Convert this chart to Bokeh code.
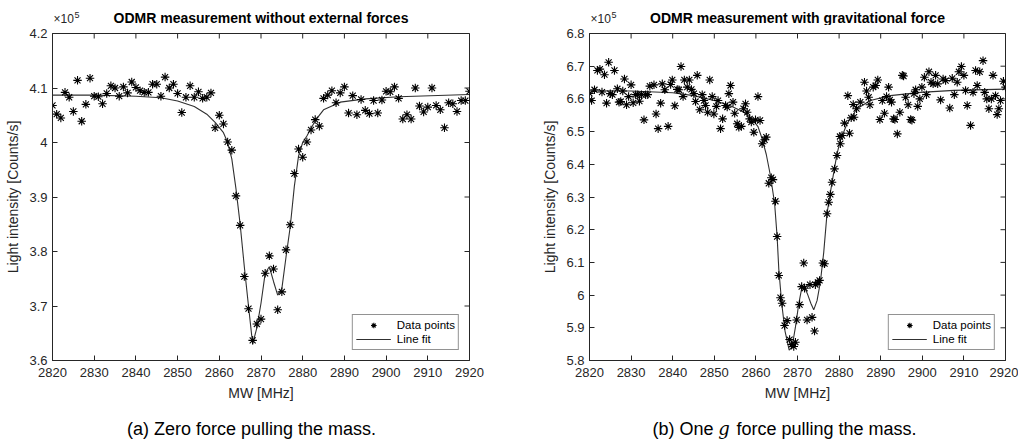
import math
from bokeh.plotting import figure
from bokeh.models import (Range1d, FixedTicker, Label, Legend, LegendItem,
                          CustomJSTickFormatter)
from bokeh.layouts import row, column
from bokeh.embed import file_html
from bokeh.resources import INLINE

# ---------------- data ----------------
x_ticks = [2820, 2830, 2840, 2850, 2860, 2870, 2880, 2890, 2900, 2910, 2920]
left_y_ticks = [3.6, 3.7, 3.8, 3.9, 4.0, 4.1, 4.2]
right_y_ticks = [5.8, 5.9, 6.0, 6.1, 6.2, 6.3, 6.4, 6.5, 6.6, 6.7, 6.8]

# (a) zero force: measured points (MHz, x1e5 counts/s)
left_freq = list(range(2820, 2921))
left_counts = [
    4.068, 4.052, 4.045, 4.092, 4.083, 4.057, 4.114, 4.039, 4.070, 4.118,
    4.085, 4.084, 4.071, 4.090, 4.104, 4.100, 4.085, 4.102, 4.091, 4.111,
    4.101, 4.095, 4.092, 4.092, 4.107, 4.107, 4.085, 4.120, 4.100, 4.107,
    4.090, 4.055, 4.083, 4.104, 4.083, 4.093, 4.081, 4.083, 4.091, 4.027,
    4.050, 4.034, 4.001, 3.986, 3.902, 3.848, 3.754, 3.695, 3.637, 3.667,
    3.676, 3.760, 3.792, 3.768, 3.693, 3.726, 3.803, 3.849, 3.943, 3.988,
    3.973, 4.001, 4.023, 4.042, 4.030, 4.081, 4.087, 4.095, 4.073, 4.091,
    4.102, 4.054, 4.086, 4.051, 4.079, 4.059, 4.053, 4.077, 4.054, 4.078,
    4.094, 4.093, 4.102, 4.081, 4.043, 4.051, 4.043, 4.100, 4.067, 4.056,
    4.065, 4.100, 4.068, 4.060, 4.027, 4.073, 4.071, 4.057, 4.077, 4.077,
    4.094,
]
# (a) line fit
left_fit_freq = [2820, 2830, 2840, 2846, 2850, 2854, 2857, 2859, 2861, 2862, 2863,
                 2864, 2865, 2866, 2867, 2868, 2869, 2870, 2871, 2872, 2873, 2874,
                 2875, 2876, 2877, 2878, 2879, 2880, 2881, 2883, 2885, 2889, 2895,
                 2903, 2920]
left_fit_counts = [4.087, 4.087, 4.085, 4.082, 4.076, 4.066, 4.052, 4.037, 4.018, 4.000,
                   3.970, 3.915, 3.850, 3.772, 3.700, 3.630, 3.660, 3.705, 3.760, 3.772,
                   3.745, 3.720, 3.732, 3.790, 3.845, 3.920, 3.975, 4.000, 4.012, 4.040,
                   4.060, 4.074, 4.080, 4.084, 4.088]

# (b) one g force: measured points
right_freq = [
    2820.0, 2820.5, 2821.2, 2821.9, 2822.5, 2823.0, 2823.6, 2824.1, 2824.6, 2825.0,
    2825.5, 2826.0, 2826.7, 2827.1, 2827.5, 2828.0, 2828.4, 2828.9, 2829.4, 2830.0,
    2830.5, 2831.1, 2831.6, 2832.0, 2832.5, 2833.1, 2833.5, 2834.0, 2834.5, 2835.5,
    2836.0, 2836.5, 2837.1, 2837.5, 2838.1, 2838.9, 2839.5, 2839.9, 2840.5, 2841.1,
    2841.5, 2842.0, 2842.5, 2842.8, 2843.5, 2844.0, 2844.5, 2845.1, 2845.5, 2845.9,
    2846.5, 2847.1, 2847.5, 2847.9, 2848.4, 2848.9, 2849.5, 2849.9, 2850.5, 2850.9,
    2851.5, 2852.0, 2852.7, 2853.1, 2853.5, 2853.9, 2854.5, 2854.9, 2855.5, 2855.9,
    2856.5, 2857.0, 2857.5, 2857.9, 2858.5, 2858.9, 2859.5, 2859.9, 2860.5, 2861.0,
    2861.5, 2862.1, 2862.5, 2863.1, 2863.7, 2864.1, 2864.7, 2865.1, 2865.5, 2865.9,
    2866.3, 2866.9, 2867.5, 2868.1, 2868.6, 2869.1, 2869.5, 2869.8, 2870.5, 2871.0,
    2871.5, 2871.7, 2872.3, 2873.0, 2873.5, 2874.1, 2874.3, 2874.9, 2875.3, 2876.1,
    2876.5, 2877.1, 2877.5, 2877.9, 2878.3, 2878.9, 2879.5, 2880.2, 2880.3, 2880.7,
    2881.3, 2882.1, 2882.5, 2882.9, 2883.4, 2883.6, 2884.2, 2885.1, 2886.1, 2886.6,
    2887.1, 2887.4, 2888.2, 2888.8, 2889.3, 2889.8, 2890.4, 2890.9, 2891.4, 2891.9,
    2892.2, 2892.6, 2893.1, 2893.4, 2894.0, 2894.6, 2895.2, 2895.5, 2896.0, 2896.6,
    2897.2, 2897.5, 2898.0, 2898.4, 2898.9, 2899.4, 2899.9, 2900.5, 2901.0, 2901.6,
    2902.1, 2902.6, 2903.2, 2903.7, 2904.4, 2905.0, 2905.6, 2906.6, 2907.2, 2907.7,
    2908.4, 2908.8, 2909.4, 2910.0, 2910.4, 2910.8, 2911.6, 2912.2, 2912.8, 2913.2,
    2913.8, 2914.6, 2915.0, 2915.5, 2916.0, 2916.6, 2917.0, 2917.6, 2918.0, 2918.4,
    2918.8, 2919.5, 2920.0,
]
right_counts = [
    6.617, 6.595, 6.628, 6.687, 6.691, 6.621, 6.674, 6.587, 6.712, 6.616,
    6.613, 6.687, 6.631, 6.590, 6.592, 6.624, 6.661, 6.582, 6.607, 6.643,
    6.588, 6.613, 6.613, 6.593, 6.613, 6.536, 6.613, 6.613, 6.639, 6.643,
    6.554, 6.509, 6.587, 6.646, 6.628, 6.516, 6.644, 6.658, 6.579, 6.629,
    6.628, 6.699, 6.607, 6.658, 6.636, 6.658, 6.629, 6.616, 6.592, 6.672,
    6.567, 6.613, 6.595, 6.580, 6.559, 6.658, 6.607, 6.554, 6.577, 6.595,
    6.509, 6.539, 6.580, 6.575, 6.616, 6.641, 6.590, 6.556, 6.524, 6.513,
    6.516, 6.570, 6.585, 6.559, 6.539, 6.529, 6.498, 6.536, 6.607, 6.534,
    6.463, 6.475, 6.483, 6.342, 6.359, 6.353, 6.287, 6.179, 6.060, 5.992,
    5.975, 5.907, 5.922, 5.864, 5.849, 5.843, 5.856, 5.924, 5.971, 6.026,
    6.098, 6.021, 5.924, 6.032, 5.932, 5.890, 6.032, 6.039, 6.045, 6.098,
    6.096, 6.249, 6.284, 6.308, 6.345, 6.386, 6.427, 6.485, 6.463, 6.488,
    6.526, 6.610, 6.495, 6.542, 6.583, 6.544, 6.570, 6.590, 6.651, 6.624,
    6.605, 6.582, 6.636, 6.641, 6.658, 6.537, 6.595, 6.556, 6.607, 6.636,
    6.597, 6.590, 6.539, 6.537, 6.493, 6.559, 6.672, 6.670, 6.605, 6.582,
    6.537, 6.535, 6.616, 6.628, 6.577, 6.600, 6.636, 6.666, 6.613, 6.683,
    6.651, 6.646, 6.672, 6.646, 6.597, 6.661, 6.656, 6.572, 6.663, 6.613,
    6.651, 6.683, 6.699, 6.672, 6.626, 6.580, 6.519, 6.620, 6.687, 6.641,
    6.683, 6.717, 6.620, 6.600, 6.570, 6.600, 6.672, 6.610, 6.552, 6.570,
    6.595, 6.654, 6.636,
]
right_fit_freq = [2820, 2830, 2840, 2845, 2850, 2854, 2857, 2859, 2860.5, 2861.5,
                  2862.5, 2863.5, 2864.5, 2865.1, 2865.5, 2866.2, 2867, 2868, 2868.7,
                  2869.5, 2870.3, 2871, 2871.7, 2872.5, 2873.2, 2873.9, 2874.7, 2875.5,
                  2876.3, 2877.1, 2878.3, 2879.5, 2880.3, 2881.9, 2884.3, 2887.5,
                  2892.3, 2899.6, 2907.6, 2920]
right_fit_counts = [6.625, 6.624, 6.619, 6.610, 6.595, 6.578, 6.560, 6.540, 6.515, 6.478,
                    6.430, 6.365, 6.280, 6.179, 6.080, 5.975, 5.890, 5.832, 5.842,
                    5.902, 5.973, 6.020, 6.025, 6.000, 5.975, 5.955, 5.983, 6.040,
                    6.130, 6.250, 6.345, 6.432, 6.473, 6.524, 6.570, 6.595,
                    6.610, 6.620, 6.626, 6.630]

titles = ["ODMR measurement without external forces",
          "ODMR measurement with gravitational force"]
x_label = "MW [MHz]"
y_label = "Light intensity [Counts/s]"
legend_labels = ["Data points", "Line fit"]
exponent_text = ["\u00d710", "5"]
caption_a = "(a) Zero force pulling the mass."
caption_b = ["(b) One", "g", "force pulling the mass."]

# ---------------- style ----------------
FONT = "Liberation Sans"
AX = "#262626"
W_LEFT, W_RIGHT = 537, 481
HEAD_H, CAP_H = 25, 28
MAIN_H = 440 - HEAD_H - CAP_H
TOP_PAD = 8            # frame top sits 33 px below the page top
FRAME_H = 327
TICK_FMT = CustomJSTickFormatter(code="return Number(tick.toFixed(1)).toString();")


def style_axis(ax, ticks):
    ax.ticker = FixedTicker(ticks=ticks)
    ax.minor_tick_line_color = None
    ax.major_tick_in = 5
    ax.major_tick_out = 0
    ax.major_tick_line_color = AX
    ax.axis_line_color = AX
    ax.major_label_text_font = FONT
    ax.major_label_text_color = AX
    ax.major_label_text_font_size = "13px"
    ax.axis_label_text_font = FONT
    ax.axis_label_text_font_size = "14px"
    ax.axis_label_text_font_style = "normal"
    ax.axis_label_text_color = AX


def make_panel(width, border_right, fx, fy, ffx, ffy, yr, yticks):
    p = figure(width=width, height=MAIN_H, x_range=Range1d(2820, 2920),
               y_range=Range1d(yr[0], yr[1]), output_backend="svg", title=None,
               toolbar_location=None, min_border_left=52, min_border_right=border_right,
               min_border_top=TOP_PAD, min_border_bottom=MAIN_H - TOP_PAD - FRAME_H)
    p.background_fill_color = "white"
    p.border_fill_color = "white"
    p.outline_line_color = AX
    p.outline_line_width = 1
    p.xgrid.visible = False
    p.ygrid.visible = False

    xa = p.xaxis[0]
    style_axis(xa, x_ticks)
    xa.major_label_standoff = 7
    xa.axis_label = x_label
    xa.axis_label_standoff = 5

    ya = p.yaxis[0]
    style_axis(ya, yticks)
    ya.formatter = TICK_FMT
    ya.major_label_standoff = 5
    ya.axis_label = y_label
    ya.axis_label_standoff = 5

    # mirrored inward ticks on top and right edges (box on)
    p.scatter(x=x_ticks, y=[yr[1]] * len(x_ticks), marker="dash", angle=math.pi / 2,
              size=10, line_color=AX, line_width=1)
    p.scatter(x=[2920] * len(yticks), y=yticks, marker="dash", size=10,
              line_color=AX, line_width=1)

    ln = p.line(ffx, ffy, line_color="#303030", line_width=1.1)
    sc = p.scatter(fx, fy, marker="asterisk", size=8.5, line_color="black", line_width=1.1)

    leg = Legend(items=[LegendItem(label=legend_labels[0], renderers=[sc]),
                        LegendItem(label=legend_labels[1], renderers=[ln])],
                 location="bottom_right")
    leg.label_text_font = FONT
    leg.label_text_font_size = "11.5px"
    leg.label_text_color = "black"
    leg.glyph_width = 35
    leg.glyph_height = 14
    leg.label_height = 14
    leg.label_standoff = 6
    leg.spacing = 0
    leg.padding = 3
    leg.margin = 10
    leg.border_line_color = AX
    leg.border_line_width = 1
    leg.background_fill_alpha = 1
    p.add_layout(leg)
    return p


def text_strip(height):
    s = figure(width=W_LEFT + W_RIGHT, height=height, x_range=Range1d(0, W_LEFT + W_RIGHT),
               y_range=Range1d(0, height), output_backend="svg", toolbar_location=None,
               title=None, x_axis_type=None, y_axis_type=None, min_border=0)
    s.outline_line_color = None
    s.background_fill_color = "white"
    s.border_fill_color = "white"
    s.xgrid.visible = False
    s.ygrid.visible = False
    return s


# header: titles and x10^5 exponents
head = text_strip(HEAD_H)
for frame_left, frame_right, ttl in [(52, 469, titles[0]), (589, 1005, titles[1])]:
    head.add_layout(Label(x=(frame_left + frame_right) / 2, y=HEAD_H - 17.5, text=ttl,
                          text_font=FONT, text_font_size="14px", text_font_style="bold",
                          text_color="black", text_align="center", text_baseline="middle"))
    head.add_layout(Label(x=frame_left + 1, y=HEAD_H - 18, text=exponent_text[0],
                          text_font=FONT, text_font_size="12px", text_color=AX,
                          text_align="left", text_baseline="middle"))
    head.add_layout(Label(x=frame_left + 22, y=HEAD_H - 14, text=exponent_text[1],
                          text_font=FONT, text_font_size="9px", text_color=AX,
                          text_align="left", text_baseline="middle"))

# captions
cap = text_strip(CAP_H)
cy = CAP_H - 16
cap.add_layout(Label(x=251, y=cy, text=caption_a, text_font=FONT, text_font_size="18px",
                     text_color="black", text_align="center", text_baseline="middle"))
cap.add_layout(Label(x=713, y=cy, text=caption_b[0], text_font=FONT, text_font_size="18px",
                     text_color="black", text_align="right", text_baseline="middle"))
cap.add_layout(Label(x=723.5, y=cy, text=caption_b[1], text_font="DejaVu Serif",
                     text_font_style="italic", text_font_size="18px",
                     text_color="black", text_align="center", text_baseline="middle"))
cap.add_layout(Label(x=736, y=cy, text=caption_b[2], text_font=FONT, text_font_size="18px",
                     text_color="black", text_align="left", text_baseline="middle"))

p1 = make_panel(W_LEFT, 68, left_freq, left_counts, left_fit_freq,
                left_fit_counts, (3.6, 4.2), left_y_ticks)
p2 = make_panel(W_RIGHT, 13, right_freq, right_counts, right_fit_freq,
                right_fit_counts, (5.8, 6.8), right_y_ticks)

layout = column(head, row(p1, p2), cap, spacing=0)
open("out.html", "w").write(file_html(layout, INLINE))
